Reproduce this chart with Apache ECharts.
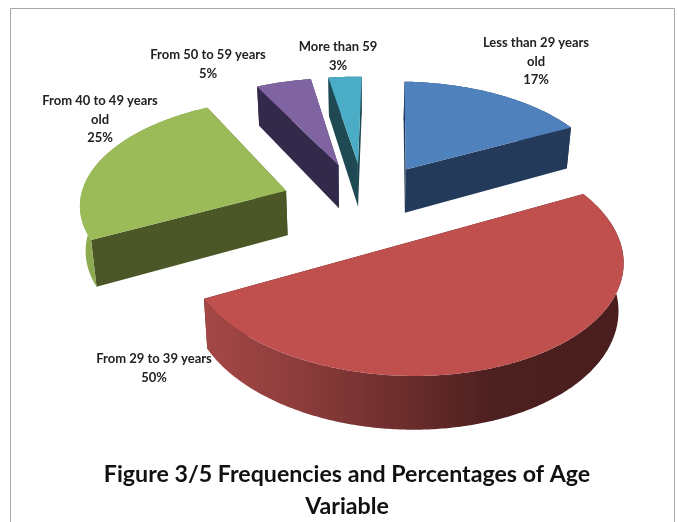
<!DOCTYPE html>
<html>
<head>
<meta charset="utf-8">
<style>html,body{margin:0;padding:0;background:#fff}#chart{width:678px;height:522px}</style>
<script src="https://cdn.jsdelivr.net/npm/echarts@6/dist/echarts.min.js"></script>
</head>
<body>
<div id="chart"></div>
<script>
// Age groups and their shares, in percent, clockwise from the start angle.
const categories = ['Less than 29 years\nold', 'From 29 to 39 years', 'From 40 to 49 years\nold', 'From 50 to 59 years', 'More than 59'];
const shares = [17, 50, 25, 5, 3];
const titleLines = ['Figure 3/5 Frequencies and Percentages of Age', 'Variable'];

// Face colours per slice.
const topColors = ['#4f81bd', '#c0504d', '#9bbb59', '#8064a2', '#4bacc6'];
const faceColors = ['#243a5b', '#4c1f1e', '#4b5727', '#33294a', '#1f4a54'];
const rimColors = [
  '#243a5b',
  { type: 'linear', x: 0, y: 0, x2: 1, y2: 0, colorStops: [
    { offset: 0, color: '#a54846' }, { offset: 0.25, color: '#893b3a' },
    { offset: 0.5, color: '#682c2b' }, { offset: 0.68, color: '#4e2020' }, { offset: 1, color: '#4a1e1e' }] },
  { type: 'linear', x: 0, y: 0, x2: 1, y2: 0, colorStops: [
    { offset: 0, color: '#8fac52' }, { offset: 1, color: '#7c9544' }] },
  '#33294a',
  '#1f4a54'
];

// Label anchors: centre x and top of the first line.
const labelAnchors = [[536, 34], [154, 350], [100, 92], [208, 46], [338, 38]];

// Perspective camera for the tilted pie. The vanishing point sits left of the pie centre.
const view = { xv: 334, centreOffset: 30, yv: -680.6, heightScale: 884.5, widthScale: 207, persp: 0.12, depth: 45, taper: 0.98, explode: 0.4, startAngle: 2 };

function project(x, v, lowered) {
  const s = 1 / (1 + view.persp * v);
  return [
    view.xv + (view.widthScale * x * (lowered ? view.taper : 1) + view.centreOffset) * s,
    view.yv + (view.heightScale + (lowered ? view.depth : 0)) * s
  ];
}

const total = shares.reduce((a, b) => a + b, 0);

function renderSlice(params, api) {
  const i = params.dataIndex;
  const before = shares.slice(0, i).reduce((a, b) => a + b, 0);
  const start = view.startAngle * Math.PI / 180;
  const a0 = start + before / total * 2 * Math.PI;
  const a1 = start + (before + api.value(0)) / total * 2 * Math.PI;
  const mid = (a0 + a1) / 2;
  const ox = Math.sin(mid) * view.explode;
  const ov = Math.cos(mid) * view.explode;

  const arc = lowered => {
    const pts = [];
    const n = Math.max(8, Math.round((a1 - a0) * 90));
    for (let k = 0; k <= n; k++) {
      const a = a0 + (a1 - a0) * k / n;
      pts.push(project(ox + Math.sin(a), ov + Math.cos(a), lowered));
    }
    return pts;
  };
  const topArc = arc(false);
  const lowArc = arc(true);
  const apexTop = project(ox, ov, false);
  const apexLow = project(ox, ov, true);
  const last = topArc.length - 1;
  const poly = (points, fill) => ({
    type: 'polygon',
    shape: { points },
    style: { fill, stroke: null }
  });
  const [lx, ly] = labelAnchors[i];

  return {
    type: 'group',
    children: [
      poly([apexTop, topArc[0], lowArc[0], apexLow], faceColors[i]),
      poly([apexTop, topArc[last], lowArc[last], apexLow], faceColors[i]),
      poly(topArc.concat(lowArc.slice().reverse()), rimColors[i]),
      poly([apexTop].concat(topArc), topColors[i]),
      {
        type: 'text',
        z2: 10,
        style: {
          x: lx, y: ly,
          text: categories[i] + '\n' + api.value(0) + '%',
          fill: '#222',
          font: 'bold 13px Lato',
          lineHeight: 18.5,
          align: 'center',
          verticalAlign: 'top'
        }
      }
    ]
  };
}

const chart = echarts.init(document.getElementById('chart'), null, { renderer: 'canvas' });
chart.setOption({
  animation: false,
  backgroundColor: '#ffffff',
  title: {
    text: titleLines.join('\n'),
    left: 347,
    top: 459,
    textAlign: 'center',
    padding: 0,
    textStyle: { fontFamily: 'Lato', fontWeight: 'bold', fontSize: 23.2, lineHeight: 32, color: '#111' }
  },
  graphic: [{
    type: 'rect',
    silent: true,
    shape: { x: 10.5, y: 8.5, width: 664, height: 530 },
    style: { fill: null, stroke: '#a6a6a6', lineWidth: 1 }
  }],
  series: [{
    type: 'custom',
    coordinateSystem: 'none',
    renderItem: renderSlice,
    data: shares.map(v => [v])
  }]
});
</script>
</body>
</html>
